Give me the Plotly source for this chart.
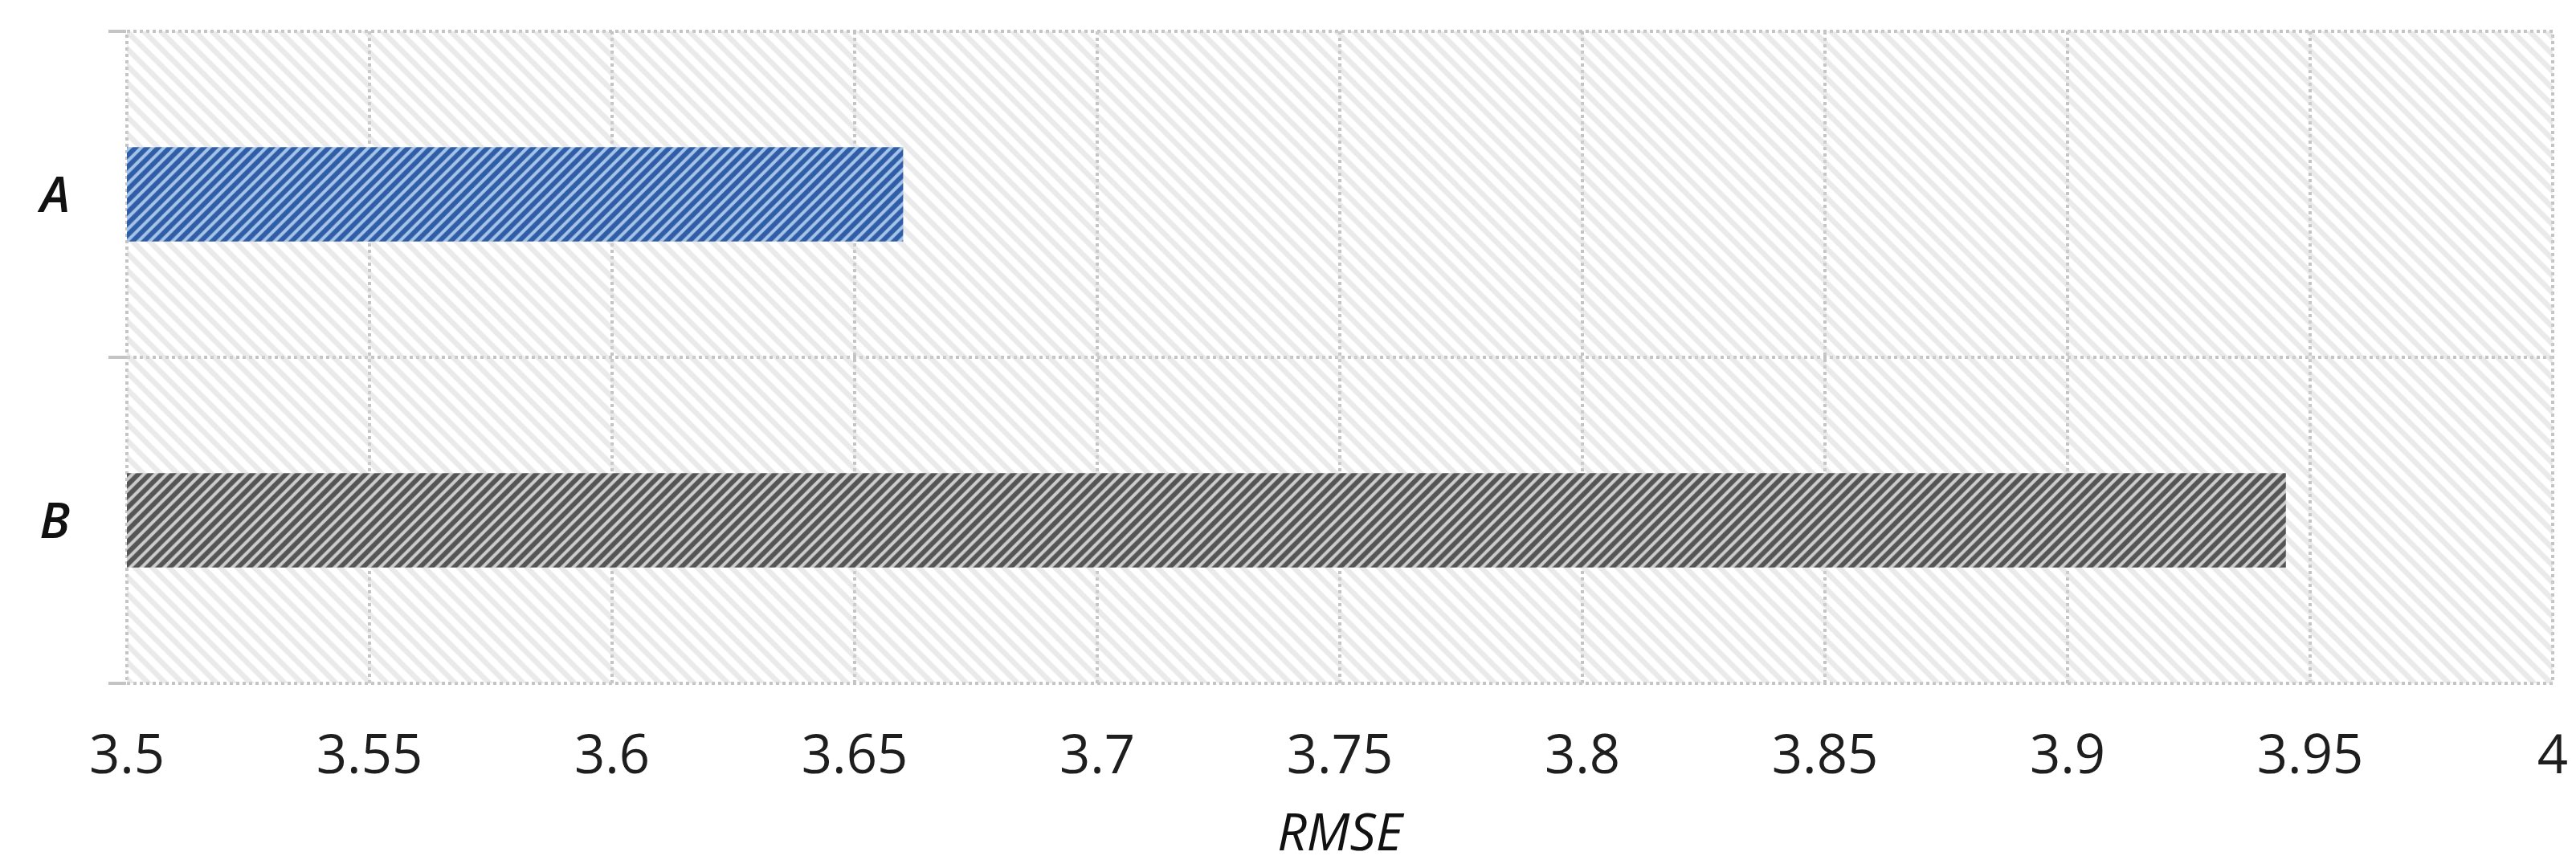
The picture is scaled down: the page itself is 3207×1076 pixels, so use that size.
import plotly.graph_objects as go

# Data
categories = ["A", "B"]
rmse_values = [3.66, 3.945]
bar_fg = ["#2f5ea6", "#555555"]
bar_bg = ["#a6c3ea", "#cdcdcd"]
x_tickvals = [3.5, 3.55, 3.6, 3.65, 3.7, 3.75, 3.8, 3.85, 3.9, 3.95, 4.0]
x_ticktext = ["3.5", "3.55", "3.6", "3.65", "3.7", "3.75", "3.8", "3.85", "3.9", "3.95", "4"]
x_range = [3.5, 4.0]

FONT = "Open Sans"
grid_col = "#c4c4c4"

fig = go.Figure()

# Hatched plot background (decoration) spanning both categories
fig.add_trace(go.Bar(
    y=[categories[0]], x=[x_range[1] - x_range[0]], base=[x_range[0]],
    orientation="h", width=[2], offset=[-1.5],
    marker=dict(color="rgba(0,0,0,0)", line=dict(width=0),
                pattern=dict(shape="\\", fgcolor="#d6d6d6", size=15, solidity=0.45,
                             fillmode="overlay")),
    hoverinfo="skip", showlegend=False,
))

# Data bars
for cat, val, fg, bg in zip(categories, rmse_values, bar_fg, bar_bg):
    fig.add_trace(go.Bar(
        y=[cat], x=[val - x_range[0]], base=[x_range[0]], orientation="h",
        width=[0.29],
        marker=dict(color=bg, line=dict(width=0),
                    pattern=dict(shape="/", fgcolor=fg, bgcolor=bg, size=10, solidity=0.6,
                                 fillmode="replace")),
        showlegend=False, name=cat,
    ))

fig.update_layout(
    width=3207, height=1076,
    margin=dict(l=150, r=37, t=31, b=233),
    paper_bgcolor="white", plot_bgcolor="white",
    barmode="overlay",
    font=dict(family=FONT, color="#262626"),
    xaxis=dict(
        automargin=False,
        range=x_range, tickvals=x_tickvals, ticktext=x_ticktext,
        showgrid=True, gridcolor=grid_col, gridwidth=4, griddash="dot",
        zeroline=False, showline=False, ticks="",
        tickfont=dict(size=67, family=FONT, color="#1e1e1e"),
        ticklabelstandoff=44,
        title=dict(text="RMSE", font=dict(size=64, family=FONT, color="#111111", style="italic"),
                   standoff=32),
    ),
    yaxis=dict(
        automargin=False,
        type="category", categoryorder="array", categoryarray=["B", "A"],
        range=[-0.5, 1.5], tickson="boundaries",
        showgrid=True, gridcolor=grid_col, gridwidth=4, griddash="dot",
        ticks="outside", ticklen=22, tickcolor=grid_col, tickwidth=4,
        zeroline=False, showline=False,
        tickfont=dict(size=62, family=FONT, color="#111111", style="italic", weight=600),
        ticklabelstandoff=70,
    ),
    shapes=[dict(type="rect", xref="x domain", yref="y domain", x0=0, x1=1, y0=0, y1=1,
                 line=dict(color=grid_col, width=4, dash="dot"), layer="below")],
)

fig.write_html("out.html")
